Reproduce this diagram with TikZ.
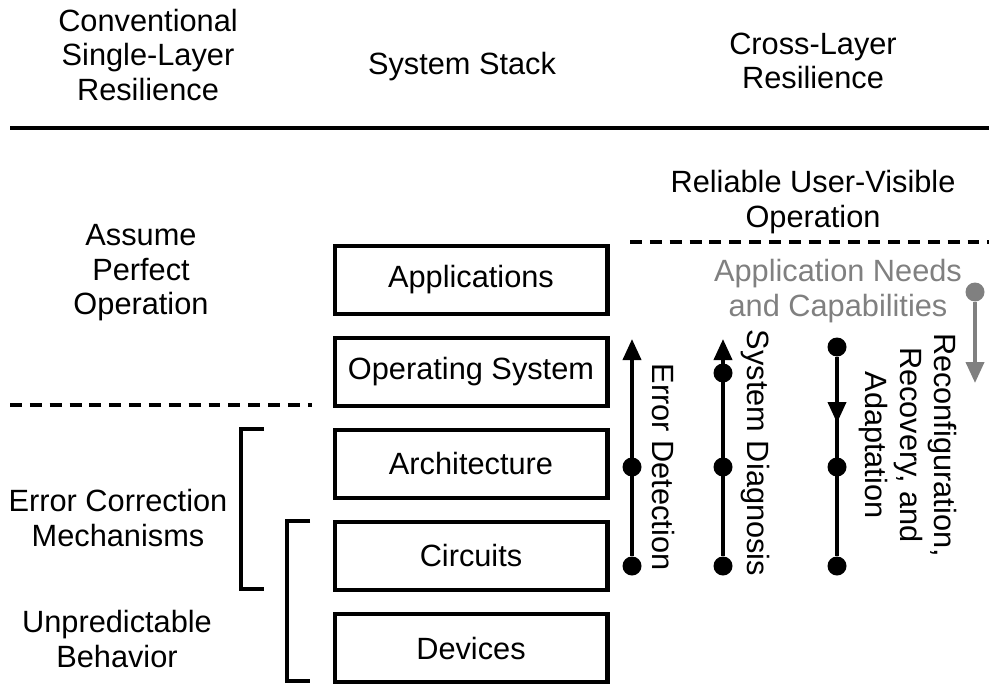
\documentclass[tikz,border=0pt]{standalone}
\usepackage{fontspec}
\setmainfont{Liberation Sans}
\usetikzlibrary{arrows.meta}
\definecolor{needGray}{RGB}{128,128,128}
\tikzset{
	stackBox/.style={draw, line width=2.3pt, minimum width=5.46cm, minimum height=1.36cm},
	dotNode/.style={circle, fill=black, inner sep=0pt, minimum size=0.38cm},
	flowLine/.style={line width=2.2pt},
	sepDash/.style={line width=1.9pt, dash pattern=on 6.8pt off 4.5pt},
	tipHead/.style={-{Triangle[length=0.42cm, width=0.36cm]}}
}

\begin{document}
\begin{tikzpicture}[x=0.02cm, y=-0.02cm, font=\fontsize{17.5}{19.6}\selectfont]
	\useasboundingbox (0,0) rectangle (989,686);
	% column heads
	\node[align=center] (headConv) at (148,55) {Conventional\\Single-Layer\\Resilience};
	\node (headStack) at (462,67) {System Stack};
	\node[align=center] (headCross) at (813,61) {Cross-Layer\\Resilience};
	\draw[line width=2.2pt] (10,128) -- (989,128);
	% the stack
	\node[stackBox] (apps) at (471,280) {Applications};
	\node[stackBox] (os) at (471,372) {Operating System};
	\node[stackBox] (arch) at (471,464) {Architecture};
	\node[stackBox] (circ) at (471,556) {Circuits};
	\node[stackBox] (dev) at (471,648) {Devices};
	% left column
	\node[align=center] (assume) at (141,273) {Assume\\Perfect\\Operation};
	\draw[sepDash] (10,405) -- (312,405);
	\node[align=center] (errCorr) at (118,518) {Error Correction\\Mechanisms};
	\node[align=center] (unpred) at (117,639) {Unpredictable\\Behavior};
	\draw[line width=2.2pt] (264,429) -- (241,429) -- (241,589) -- (264,589);
	\draw[line width=2.2pt] (310,521) -- (287,521) -- (287,681) -- (310,681);
	% right column
	\node[align=center] (reliable) at (813,202) {Reliable User-Visible\\Operation};
	\draw[sepDash] (630,242) -- (989,242);
	\node[align=center, text=needGray] (needs) at (838,291) {Application Needs\\and Capabilities};
	\node[dotNode, fill=needGray] (needDot) at (975,292) {};
	\coordinate (needTip) at (975,383);
	\draw[flowLine, tipHead, draw=needGray, fill=needGray] (needDot) -- (needTip);
	% error detection
	\node[dotNode] (detMid) at (632,467) {};
	\node[dotNode] (detLow) at (632,566) {};
	\coordinate (detTip) at (632,339);
	\draw[flowLine, tipHead] (detLow) -- (detTip);
	\node[rotate=-90] (detLabel) at (663,467) {Error Detection};
	% system diagnosis
	\node[dotNode] (diagTop) at (723,373) {};
	\node[dotNode] (diagMid) at (723,467) {};
	\node[dotNode] (diagLow) at (723,566) {};
	\coordinate (diagTip) at (723,339);
	\draw[flowLine, tipHead] (diagLow) -- (diagTip);
	\node[rotate=-90] (diagLabel) at (755,453) {System Diagnosis};
	% reconfiguration
	\node[dotNode] (recTop) at (837,347) {};
	\node[dotNode] (recMid) at (837,467) {};
	\node[dotNode] (recLow) at (837,566) {};
	\coordinate (recTip) at (837,423);
	\draw[flowLine] (recTop) -- (recLow);
	\draw[flowLine, tipHead] (recTop) -- (recTip);
	\node[rotate=-90, align=center] (recLabel) at (908,445) {Reconfiguration,\\Recovery, and\\Adaptation};
\end{tikzpicture}
\end{document}
